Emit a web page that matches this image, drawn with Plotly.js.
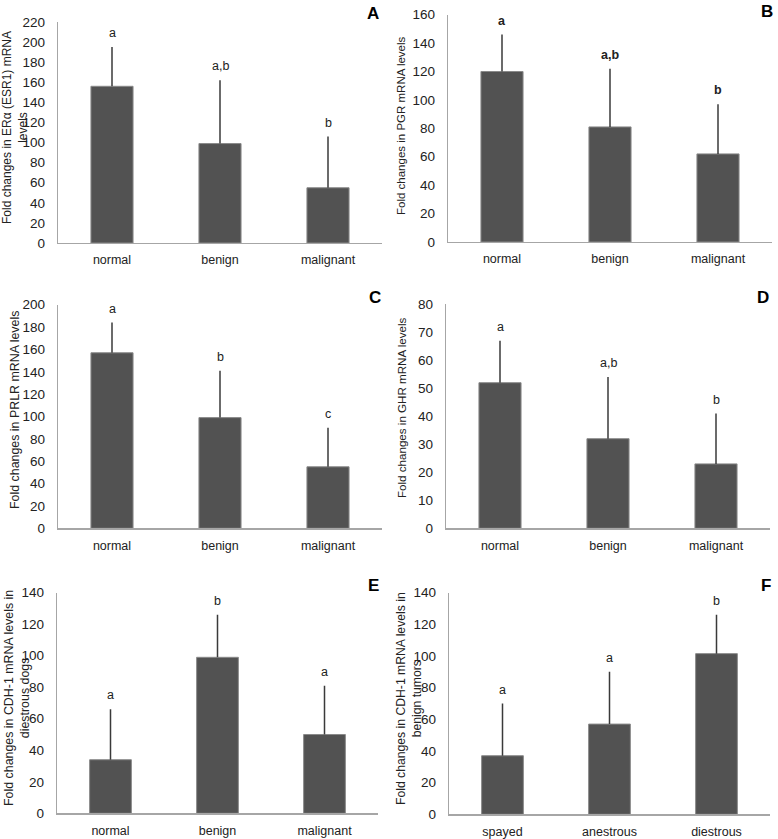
<!DOCTYPE html>
<html>
<head>
<meta charset="utf-8">
<script src="https://cdn.plot.ly/plotly-3.0.1.min.js"></script>
<style>html,body{margin:0;padding:0;background:#fff;}#chart{width:778px;height:839px;}</style>
</head>
<body>
<div id="chart"></div>
<script>
// ---------- data ----------
const catsTumor = ['normal', 'benign', 'malignant'];
const catsStage = ['spayed', 'anestrous', 'diestrous'];

const meanA = [156, 99, 55];   const sdA = [39, 63, 51];   const letA = ['a', 'a,b', 'b'];
const meanB = [120, 81, 62];   const sdB = [26, 41, 35];   const letB = ['a', 'a,b', 'b'];
const meanC = [157, 99, 55];   const sdC = [27, 42, 35];   const letC = ['a', 'b', 'c'];
const meanD = [52, 32, 23];    const sdD = [15, 22, 18];   const letD = ['a', 'a,b', 'b'];
const meanE = [34, 99, 50];    const sdE = [32, 27, 31];   const letE = ['a', 'b', 'a'];
const meanF = [37, 57, 101.5]; const sdF = [33, 33, 24.5]; const letF = ['a', 'a', 'b'];

const titleA = 'Fold changes in ERα (ESR1) mRNA<br>levels';
const titleB = 'Fold changes in PGR mRNA levels';
const titleC = 'Fold changes in PRLR mRNA levels';
const titleD = 'Fold changes in GHR mRNA levels';
const titleE = 'Fold changes in CDH-1 mRNA levels in<br>diestrous dogs';
const titleF = 'Fold changes in CDH-1 mRNA levels in<br>benign tumors';

// ---------- layout helpers ----------
const W = 778, H = 839;
const px = x => x / W;
const py = y => 1 - y / H;
const FONT = 'Liberation Sans, Arial, sans-serif';

const panels = [
  {cats: catsTumor, mean: meanA, sd: sdA, let: letA, title: titleA, fs: 12, tag: 'A', range: [0, 220], dtick: 20, xd: [58, 382], yd: [22, 243], tx: 15, ty: 128, lx: 373, ly: 14, bold: false},
  {cats: catsTumor, mean: meanB, sd: sdB, let: letB, title: titleB, fs: 11.5, tag: 'B', range: [0, 160], dtick: 20, xd: [448, 772], yd: [14.7, 242], tx: 401, ty: 126, lx: 767, ly: 12, bold: true},
  {cats: catsTumor, mean: meanC, sd: sdC, let: letC, title: titleC, fs: 12.4, tag: 'C', range: [0, 200], dtick: 20, xd: [58, 382], yd: [304.7, 528.3], tx: 15, ty: 410, lx: 375, ly: 298, bold: false},
  {cats: catsTumor, mean: meanD, sd: sdD, let: letD, title: titleD, fs: 11.6, tag: 'D', range: [0, 80], dtick: 10, xd: [446, 770], yd: [304.3, 528.3], tx: 401, ty: 408, lx: 763, ly: 298, bold: false},
  {cats: catsTumor, mean: meanE, sd: sdE, let: letE, title: titleE, fs: 12.4, tag: 'E', range: [0, 140], dtick: 20, xd: [57, 378], yd: [592.7, 813.3], tx: 17, ty: 698, lx: 373, ly: 585, bold: false},
  {cats: catsStage, mean: meanF, sd: sdF, let: letF, title: titleF, fs: 12.2, tag: 'F', range: [0, 140], dtick: 20, xd: [449, 770], yd: [592.7, 814.3], tx: 409, ty: 699, lx: 766, ly: 585, bold: false}
];

const traces = [];
const layout = {
  width: W, height: H,
  margin: {l: 0, r: 0, t: 0, b: 0},
  paper_bgcolor: '#ffffff', plot_bgcolor: '#ffffff',
  showlegend: false,
  bargap: 0.61,
  font: {family: FONT, size: 12, color: '#222'},
  annotations: []
};

panels.forEach((p, i) => {
  const n = i + 1;
  const xa = n === 1 ? 'x' : 'x' + n;
  const ya = n === 1 ? 'y' : 'y' + n;
  traces.push({
    type: 'bar', x: p.cats, y: p.mean, xaxis: xa, yaxis: ya,
    marker: {color: '#525252', line: {color: '#8a8a8a', width: 1}},
    error_y: {type: 'data', symmetric: false, array: p.sd, arrayminus: p.mean.map(() => 0),
              color: '#3a3a3a', thickness: 1.5, width: 0},
    hoverinfo: 'x+y'
  });
  layout['xaxis' + (n === 1 ? '' : n)] = {
    domain: [px(p.xd[0]), px(p.xd[1])], anchor: ya,
    showline: true, linecolor: '#a6a6a6', linewidth: 1.2,
    showgrid: false, zeroline: false, ticks: '', ticklabelstandoff: 5,
    tickfont: {family: FONT, size: 12.5, color: '#222'},
    fixedrange: true
  };
  layout['yaxis' + (n === 1 ? '' : n)] = {
    domain: [py(p.yd[1]), py(p.yd[0])], anchor: xa,
    range: p.range, dtick: p.dtick, tick0: 0,
    showline: true, linecolor: '#a6a6a6', linewidth: 1.2,
    showgrid: false, zeroline: false, ticks: '', ticklabelstandoff: 9,
    tickfont: {family: FONT, size: 13.5, color: '#222'},
    fixedrange: true
  };
  // y-axis title
  layout.annotations.push({
    xref: 'paper', yref: 'paper', x: px(p.tx), y: py(p.ty),
    xanchor: 'center', yanchor: 'middle', textangle: -90, showarrow: false,
    text: p.title, align: 'center',
    font: {family: FONT, size: p.fs, color: '#222'}
  });
  // panel tag
  layout.annotations.push({
    xref: 'paper', yref: 'paper', x: px(p.lx), y: py(p.ly),
    xanchor: 'center', yanchor: 'middle', showarrow: false,
    text: '<b>' + p.tag + '</b>',
    font: {family: FONT, size: 17, color: '#000'}
  });
  // significance letters
  p.cats.forEach((c, k) => {
    layout.annotations.push({
      xref: xa, yref: ya, x: c, y: p.mean[k] + p.sd[k],
      xanchor: 'center', yanchor: 'bottom', yshift: 5, showarrow: false,
      text: p.bold ? '<b>' + p.let[k] + '</b>' : p.let[k],
      font: {family: FONT, size: 12.5, color: '#222'}
    });
  });
});

Plotly.newPlot('chart', traces, layout, {displayModeBar: false, staticPlot: true});
</script>
</body>
</html>
